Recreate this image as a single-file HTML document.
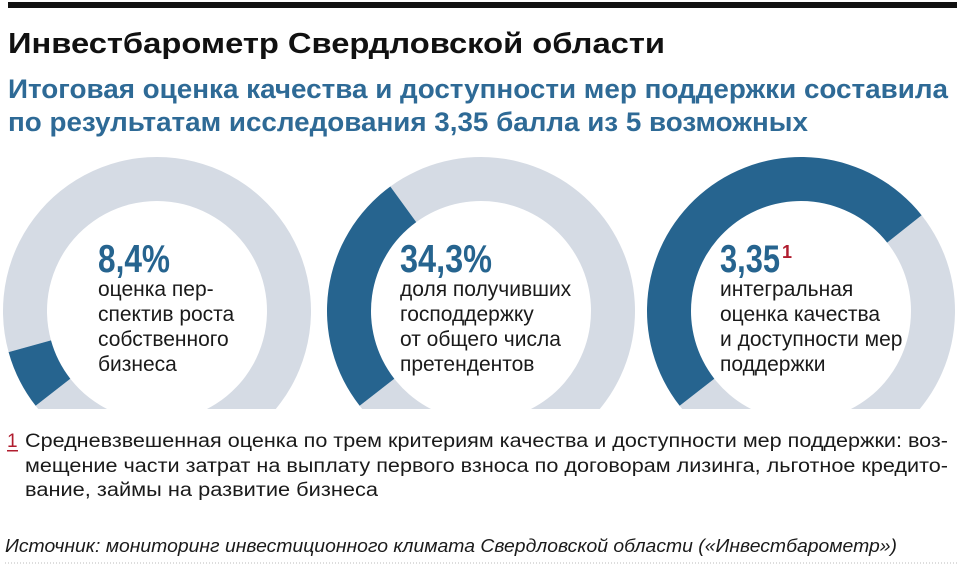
<!DOCTYPE html>
<html><head><meta charset="utf-8">
<style>
html,body{margin:0;padding:0;background:#fff;}
svg{display:block;}
.t{font-family:"Liberation Sans",sans-serif;}
.big{font-family:"Liberation Sans Narrow","Liberation Sans",sans-serif;font-weight:bold;fill:#26648f;}
.lbl{font-family:"Liberation Sans",sans-serif;font-size:21px;fill:#1a1a1a;}
</style></head>
<body>
<svg id="chart" width="957" height="566" viewBox="0 0 957 566" xmlns="http://www.w3.org/2000/svg">
  <rect x="8" y="2" width="949" height="6" fill="#111"/>
  <text class="t" x="8" y="53" font-size="29" font-weight="bold" fill="#111" textLength="657" lengthAdjust="spacingAndGlyphs">Инвестбарометр Свердловской области</text>
  <text class="t" x="8" y="98" font-size="27" font-weight="bold" fill="#2e6a96" textLength="940" lengthAdjust="spacingAndGlyphs">Итоговая оценка качества и доступности мер поддержки составила</text>
  <text class="t" x="8" y="131" font-size="27" font-weight="bold" fill="#2e6a96" textLength="800" lengthAdjust="spacingAndGlyphs">по результатам исследования 3,35 балла из 5 возможных</text>
  <defs><clipPath id="clip"><rect x="0" y="140" width="957" height="269"/></clipPath></defs>
  <g id="donuts" clip-path="url(#clip)"></g>
  <g id="labels"></g>
  <text class="t" x="7" y="447" font-size="19" fill="#b01c2e">1</text>
  <rect x="7" y="450" width="11" height="1.5" fill="#b01c2e"/>
  <text class="t" x="25" y="447" font-size="19" fill="#1a1a1a" textLength="923" lengthAdjust="spacingAndGlyphs">Средневзвешенная оценка по трем критериям качества и доступности мер поддержки: воз-</text>
  <text class="t" x="25" y="472" font-size="19" fill="#1a1a1a" textLength="923" lengthAdjust="spacingAndGlyphs">мещение части затрат на выплату первого взноса по договорам лизинга, льготное кредито-</text>
  <text class="t" x="25" y="496" font-size="19" fill="#1a1a1a" textLength="353" lengthAdjust="spacingAndGlyphs">вание, займы на развитие бизнеса</text>
  <text class="t" x="5" y="552" font-size="18" font-style="italic" fill="#1a1a1a" textLength="892" lengthAdjust="spacingAndGlyphs">Источник: мониторинг инвестиционного климата Свердловской области («Инвестбарометр»)</text>
  <line x1="5" y1="563" x2="957" y2="563" stroke="#bbb" stroke-width="1" stroke-dasharray="1,2"/>
</svg>
<script>
const categories = ["perspectives", "support-share", "integral-score"];
const valueLabels = ["8,4%", "34,3%", "3,35"];
const values = [8.4, 34.3, 3.35];
const maxValues = [100, 100, 5];
const descriptions = [
  ["оценка пер-", "спектив роста", "собственного", "бизнеса"],
  ["доля получивших", "господдержку", "от общего числа", "претендентов"],
  ["интегральная", "оценка качества", "и доступности мер", "поддержки"]
];
const NS = "http://www.w3.org/2000/svg";
const centersX = [157, 481, 801];
const cy = 311, R = 154, r = 110;
const startDeg = 52, spanDeg = 268;
function angleOf(v, max){ return startDeg + spanDeg * v / max; }
function pt(cx, rad, deg){ const a = deg*Math.PI/180; return [cx - rad*Math.sin(a), cy + rad*Math.cos(a)]; }
function arcPath(cx, a0, a1){
  const large = (a1 - a0) > 180 ? 1 : 0;
  const p0 = pt(cx,R,a0), p1 = pt(cx,R,a1), q1 = pt(cx,r,a1), q0 = pt(cx,r,a0);
  return `M${p0[0]},${p0[1]} A${R},${R} 0 ${large} 1 ${p1[0]},${p1[1]} L${q1[0]},${q1[1]} A${r},${r} 0 ${large} 0 ${q0[0]},${q0[1]} Z`;
}
const g = document.getElementById("donuts");
const lg = document.getElementById("labels");
const textX = [98, 400, 720];
const bigWidths = [72, 92, 60];
categories.forEach((c, i) => {
  const cx = centersX[i];
  const end = angleOf(values[i], maxValues[i]);
  const grey = document.createElementNS(NS, "path");
  grey.setAttribute("d", arcPath(cx, end, startDeg + 360));
  grey.setAttribute("fill", "#d5dbe4");
  
  
  g.appendChild(grey);
  const blue = document.createElementNS(NS, "path");
  blue.setAttribute("d", arcPath(cx, startDeg, end));
  blue.setAttribute("fill", "#26648f");
  
  
  g.appendChild(blue);
  const big = document.createElementNS(NS, "text");
  big.setAttribute("class", "big");
  big.setAttribute("x", textX[i]);
  big.setAttribute("y", 272);
  big.setAttribute("font-size", "39");
  big.setAttribute("textLength", bigWidths[i]);
  big.setAttribute("lengthAdjust", "spacingAndGlyphs");
  big.textContent = valueLabels[i];
  
  
  lg.appendChild(big);
  descriptions[i].forEach((line, j) => {
    const t = document.createElementNS(NS, "text");
    t.setAttribute("class", "lbl");
    t.setAttribute("x", textX[i]);
    t.setAttribute("y", 296 + j*25);
    t.textContent = line;
    
    
    lg.appendChild(t);
  });
});
const sup = document.createElementNS(NS, "text");
sup.setAttribute("class", "big");
sup.setAttribute("x", 782);
sup.setAttribute("y", 258);
sup.setAttribute("font-size", "18");
sup.style.fill = "#b01c2e";
sup.textContent = "1";


lg.appendChild(sup);
</script>
</body></html>
